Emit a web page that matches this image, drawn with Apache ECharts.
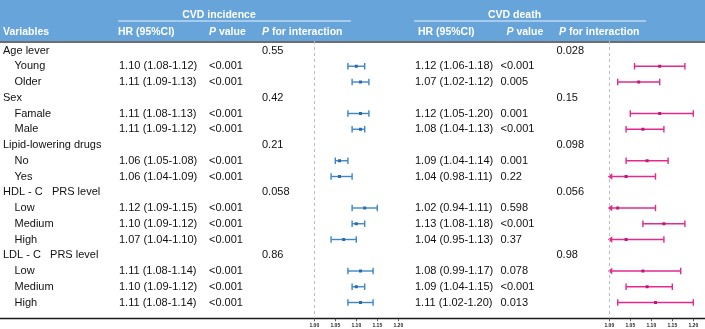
<!DOCTYPE html>
<html><head><meta charset="utf-8">
<script src="https://cdn.jsdelivr.net/npm/echarts@6/dist/echarts.min.js"></script>
<style>html,body{margin:0;padding:0;background:#fff}#c{width:705px;height:329px}</style>
</head><body><div id="c"></div>
<script>
const rowLabels = ['Age lever','Young','Older','Sex','Famale','Male','Lipid-lowering drugs','No','Yes','HDL - C   PRS level','Low','Medium','High','LDL - C   PRS level','Low','Medium','High'];
const rowIsGroup = [1,0,0,1,0,0,1,0,0,1,0,0,0,1,0,0,0];

const incHR = [null,1.10,1.11,null,1.11,1.11,null,1.06,1.06,null,1.12,1.10,1.07,null,1.11,1.10,1.11];
const incLo = [null,1.08,1.09,null,1.08,1.09,null,1.05,1.04,null,1.09,1.09,1.04,null,1.08,1.09,1.08];
const incHi = [null,1.12,1.13,null,1.13,1.12,null,1.08,1.09,null,1.15,1.12,1.10,null,1.14,1.12,1.14];
const incP = ['','<0.001','<0.001','','<0.001','<0.001','','<0.001','<0.001','','<0.001','<0.001','<0.001','','<0.001','<0.001','<0.001'];
const incPint = ['0.55','','','0.42','','','0.21','','','0.058','','','','0.86','','',''];

const deathHR = [null,1.12,1.07,null,1.12,1.08,null,1.09,1.04,null,1.02,1.13,1.04,null,1.08,1.09,1.11];
const deathLo = [null,1.06,1.02,null,1.05,1.04,null,1.04,0.98,null,0.94,1.08,0.95,null,0.99,1.04,1.02];
const deathHi = [null,1.18,1.12,null,1.20,1.13,null,1.14,1.11,null,1.11,1.18,1.13,null,1.17,1.15,1.20];
const deathP = ['','<0.001','0.005','','0.001','<0.001','','0.001','0.22','','0.598','<0.001','0.37','','0.078','<0.001','0.013'];
const deathPint = ['0.028','','','0.15','','','0.098','','','0.056','','','','0.98','','',''];

const xTicks = [1.00,1.05,1.10,1.15,1.20];

const FONT = '"Liberation Sans", Arial, sans-serif';
const fmtHR = (h,l,u) => h==null ? '' : h.toFixed(2)+' ('+l.toFixed(2)+'-'+u.toFixed(2)+')';

const chart = echarts.init(document.getElementById('c'), null, {renderer:'canvas'});

function tableRender(params, api){
  const i = api.value(1);
  const y = api.coord([1.0, i])[1];
  const g = rowIsGroup[i];
  const t = (txt, x) => ({type:'text', style:{text:txt, x:x, y:y, fill:'#111', fontSize:11, fontFamily:FONT, textAlign:'left', textVerticalAlign:'middle', align:'left', verticalAlign:'middle'}});
  const ch = [t(rowLabels[i], g ? 3 : 14.5)];
  if (!g) {
    ch.push(t(fmtHR(incHR[i],incLo[i],incHi[i]), 119));
    ch.push(t(incP[i], 209));
    ch.push(t(fmtHR(deathHR[i],deathLo[i],deathHi[i]), 415));
    ch.push(t(deathP[i], 500.5));
  } else {
    ch.push(t(incPint[i], 262));
    ch.push(t(deathPint[i], 556.5));
  }
  return {type:'group', children: ch};
}

function forestRender(color, mark){
  return function(params, api){
    const row = api.value(0), hr = api.value(1), lo = api.value(2), hi = api.value(3);
    const xmin = 1.0;
    const c = api.coord([hr,row]);
    const y = c[1];
    const xl = api.coord([Math.max(lo,xmin),row])[0];
    const xh = api.coord([hi,row])[0];
    const ls = {stroke:color, lineWidth:1.4};
    const ch = [
      {type:'line', shape:{x1:xl,y1:y,x2:xh,y2:y}, style:ls},
      {type:'line', shape:{x1:xh,y1:y-3.2,x2:xh,y2:y+3.2}, style:ls}
    ];
    if (lo < xmin) {
      ch.push({type:'polygon', shape:{points:[[xl-1.5,y],[xl+3,y-3.2],[xl+3,y+3.2]]}, style:{fill:color}});
    } else {
      ch.push({type:'line', shape:{x1:xl,y1:y-3.2,x2:xl,y2:y+3.2}, style:ls});
    }
    ch.push({type:'rect', shape:{x:c[0]-1.5,y:y-1.5,width:3,height:3}, style:{fill:mark}});
    return {type:'group', children:ch};
  };
}

const incData = [], deathData = [], tableData = [];
rowLabels.forEach((_,i)=>{
  tableData.push([1.0,i]);
  if (incHR[i]!=null) incData.push([i,incHR[i],incLo[i],incHi[i]]);
  if (deathHR[i]!=null) deathData.push([i,deathHR[i],deathLo[i],deathHi[i]]);
});

const gridTop = 41.05, gridH = 277.2;
const xAxisBase = (idx) => ({
  type:'value', gridIndex:idx, min:1.0, max:1.2, interval:0.05, position:'bottom',
  axisLine:{show:false, onZero:false}, splitLine:{show:false},
  axisTick:{show:true, length:3, lineStyle:{color:'#333', width:0.8}},
  axisLabel:{fontSize:5, fontWeight:'bold', color:'#222', margin:4.5, fontFamily:FONT, formatter:v=>v.toFixed(2)}
});
const yAxisBase = (idx) => ({
  type:'value', gridIndex:idx, inverse:true, min:-0.6, max:17,
  show:false
});
const refLine = {silent:true, symbol:'none', label:{show:false}, lineStyle:{type:[3,3], color:'#bdbdbd', width:1}, data:[{xAxis:1.0}]};

const hText = (txt, x, y, align) => ({type:'text', x:x, y:y, style:{text:txt, fill:'#fff', font:'bold 10.5px '+FONT, textAlign:align||'left', textVerticalAlign:'middle',
  rich:{i:{fontStyle:'italic', fontWeight:'bold', fontSize:10.5, fontFamily:FONT, fill:'#fff'}, n:{fontWeight:'bold', fontSize:10.5, fontFamily:FONT, fill:'#fff'}}}});

chart.setOption({
  animation:false,
  grid:[
    {left:314.3, width:84, top:gridTop, height:gridH},
    {left:609.3, width:84, top:gridTop, height:gridH}
  ],
  xAxis:[xAxisBase(0), xAxisBase(1)],
  yAxis:[yAxisBase(0), yAxisBase(1)],
  graphic:[
    {type:'rect', shape:{x:0,y:0,width:705,height:41}, style:{fill:'#66a4da'}, z:-1},
    {type:'rect', shape:{x:0,y:41,width:705,height:2}, style:{fill:'#6e6e6e'}},
    {type:'line', shape:{x1:118,y1:21,x2:351,y2:21}, style:{stroke:'#e8f1fa', lineWidth:1}},
    {type:'line', shape:{x1:414,y1:21,x2:646,y2:21}, style:{stroke:'#e8f1fa', lineWidth:1}},
    {type:'line', shape:{x1:0,y1:318.5,x2:705,y2:318.5}, style:{stroke:'#1a1a1a', lineWidth:1.5}},
    hText('CVD incidence', 219, 15, 'center'),
    hText('CVD death', 514.5, 15, 'center'),
    hText('Variables', 3, 32),
    hText('HR (95%CI)', 118, 32),
    hText('{i|P}{n| value}', 209, 32),
    hText('{i|P}{n| for interaction}', 262, 32),
    hText('HR (95%CI)', 418, 32),
    hText('{i|P}{n| value}', 506.5, 32),
    hText('{i|P}{n| for interaction}', 559, 32)
  ],
  series:[
    {type:'custom', name:'table', xAxisIndex:0, yAxisIndex:0, data:tableData, encode:{x:0,y:1}, renderItem:tableRender, clip:false, silent:true, z:5},
    {type:'custom', name:'CVD incidence', xAxisIndex:0, yAxisIndex:0, data:incData, encode:{x:[1,2,3], y:0},
      renderItem:forestRender('#3d87c7','#2a6aa8'), clip:false, markLine:refLine},
    {type:'custom', name:'CVD death', xAxisIndex:1, yAxisIndex:1, data:deathData, encode:{x:[1,2,3], y:0},
      renderItem:forestRender('#e02a8c','#c01874'), clip:false, markLine:refLine}
  ]
});
</script>
</body></html>
